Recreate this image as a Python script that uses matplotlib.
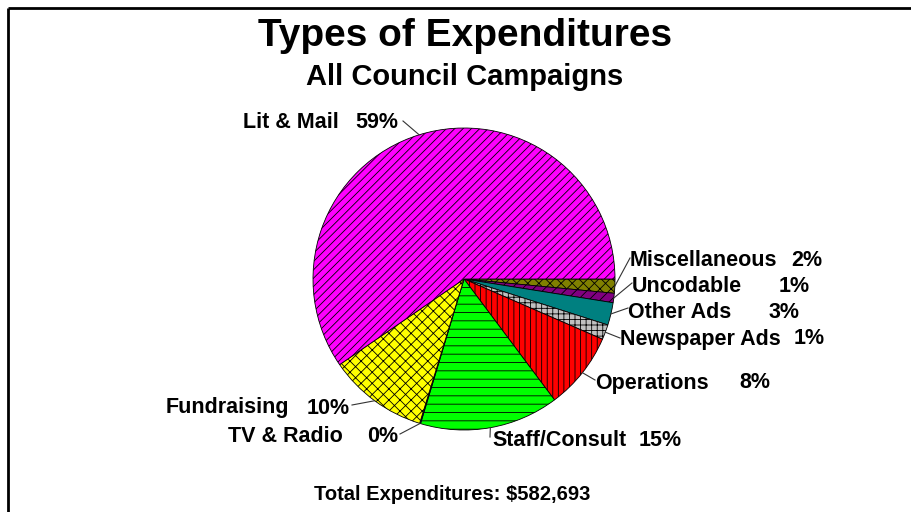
import matplotlib
matplotlib.use("Agg")
import matplotlib.pyplot as plt
import numpy as np

plt.rcParams['font.family'] = ['Liberation Sans', 'DejaVu Sans']
plt.rcParams['hatch.linewidth'] = 0.6

# slices, clockwise from 3 o'clock
names = ["Miscellaneous", "Uncodable", "Other Ads", "Newspaper Ads", "Operations",
         "Staff/Consult", "TV & Radio", "Fundraising", "Lit & Mail"]
shares = [1.5, 1.0, 2.4, 1.6, 8.2, 14.8, 0.1, 10.6, 59.3]
pct_labels = ["2%", "1%", "3%", "1%", "8%", "15%", "0%", "10%", "59%"]
colors = ["#808000", "#800080", "#008080", "#C0C0C0", "#FF0000",
          "#00FF00", "#0000FF", "#FFFF00", "#FF00FF"]
hatches = ["xxx", "///", "", "+++", "|||", "--", "", "xxx", "////"]
total = "$582,693"

W, H = 911, 512
cx, cy, R = 464, 279, 151

# label layout in image pixels: name left x, pct right x, text y, leader start (x, y)
name_x = [630, 632, 628, 620, 595, 492, 228, 166, 243]
pct_x = [822, 810, 800, 825, 770, 682, 398, 350, 398]
text_y = [261, 286, 312, 339, 383, 441, 437, 408, 122]
lead_xy = [(630, 258), (632, 283), (628, 308), (620, 338), (595, 380),
           (490, 437), (400, 434), (352, 405), (403, 121)]

fig = plt.figure(figsize=(W / 100, H / 100), dpi=100)
ax = fig.add_axes([0, 0, 1, 1])

wedges, _ = ax.pie(shares, colors=colors, startangle=0, counterclock=False,
                   center=(cx, H - cy), radius=R,
                   wedgeprops=dict(edgecolor="black", linewidth=0.6))
for w, h in zip(wedges, hatches):
    w.set_hatch(h)

ax.set_xlim(0, W)
ax.set_ylim(0, H)
ax.axis("off")

for i, w in enumerate(wedges):
    mid = np.deg2rad((w.theta1 + w.theta2) / 2)
    ex = cx + R * np.cos(mid)
    ey = (H - cy) + R * np.sin(mid)
    sx, sy = lead_xy[i]
    ax.plot([sx, ex], [H - sy, ey], color="#333333", lw=0.8)
    ax.text(name_x[i], H - text_y[i], names[i], fontsize=15.5, fontweight="bold",
            ha="left", va="center")
    ax.text(pct_x[i], H - text_y[i], pct_labels[i], fontsize=15.5, fontweight="bold",
            ha="right", va="center")

ax.text(465, H - 36, "Types of Expenditures", fontsize=28, fontweight="bold",
        ha="center", va="center")
ax.text(465, H - 77, "All Council Campaigns", fontsize=21, fontweight="bold",
        ha="center", va="center")
ax.text(452, H - 494, "Total Expenditures: " + total, fontsize=14.5, fontweight="bold",
        ha="center", va="center")

# frame lines left and top
ax.plot([8, 8], [H - 8, 0], color="black", lw=2, solid_capstyle="butt")
ax.plot([8, W], [H - 8, H - 8], color="black", lw=2, solid_capstyle="butt")

fig.savefig("out.png", dpi=100)
